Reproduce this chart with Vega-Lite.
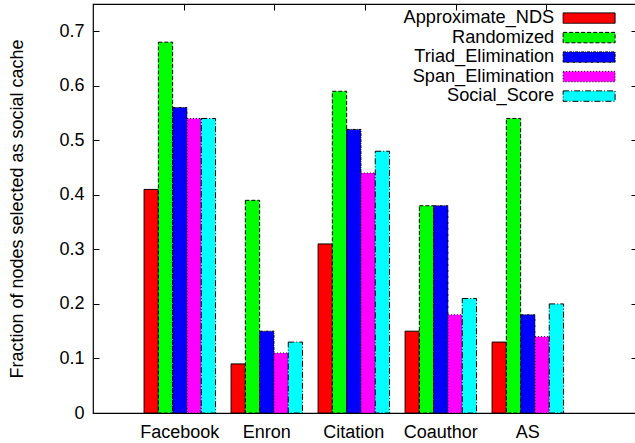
{
  "$schema": "https://vega.github.io/schema/vega-lite/v6.json",
  "width": 544,
  "height": 409,
  "padding": {"left": 8, "top": 3, "right": 0, "bottom": 0},
  "background": "white",
  "config": {
    "font": "Liberation Sans",
    "view": {"stroke": "black", "strokeWidth": 1.2},
    "axis": {"labelFont": "Liberation Sans", "titleFont": "Liberation Sans", "labelColor": "black", "titleColor": "black", "labelFontSize": 18, "titleFontSize": 18, "titleFontWeight": "normal", "grid": false}
  },
  "data": {
    "values": [
      {"dataset": "Facebook", "series": "Approximate_NDS", "value": 0.41},
      {"dataset": "Facebook", "series": "Randomized", "value": 0.68},
      {"dataset": "Facebook", "series": "Triad_Elimination", "value": 0.56},
      {"dataset": "Facebook", "series": "Span_Elimination", "value": 0.54},
      {"dataset": "Facebook", "series": "Social_Score", "value": 0.54},
      {"dataset": "Enron", "series": "Approximate_NDS", "value": 0.09},
      {"dataset": "Enron", "series": "Randomized", "value": 0.39},
      {"dataset": "Enron", "series": "Triad_Elimination", "value": 0.15},
      {"dataset": "Enron", "series": "Span_Elimination", "value": 0.11},
      {"dataset": "Enron", "series": "Social_Score", "value": 0.13},
      {"dataset": "Citation", "series": "Approximate_NDS", "value": 0.31},
      {"dataset": "Citation", "series": "Randomized", "value": 0.59},
      {"dataset": "Citation", "series": "Triad_Elimination", "value": 0.52},
      {"dataset": "Citation", "series": "Span_Elimination", "value": 0.44},
      {"dataset": "Citation", "series": "Social_Score", "value": 0.48},
      {"dataset": "Coauthor", "series": "Approximate_NDS", "value": 0.15},
      {"dataset": "Coauthor", "series": "Randomized", "value": 0.38},
      {"dataset": "Coauthor", "series": "Triad_Elimination", "value": 0.38},
      {"dataset": "Coauthor", "series": "Span_Elimination", "value": 0.18},
      {"dataset": "Coauthor", "series": "Social_Score", "value": 0.21},
      {"dataset": "AS", "series": "Approximate_NDS", "value": 0.13},
      {"dataset": "AS", "series": "Randomized", "value": 0.54},
      {"dataset": "AS", "series": "Triad_Elimination", "value": 0.18},
      {"dataset": "AS", "series": "Span_Elimination", "value": 0.14},
      {"dataset": "AS", "series": "Social_Score", "value": 0.20}
    ]
  },
  "layer": [
    {
      "mark": {"type": "bar", "stroke": "black", "strokeWidth": 1},
      "encoding": {
        "x": {
          "field": "dataset", "type": "nominal",
          "scale": {"domain": ["Facebook", "Enron", "Citation", "Coauthor", "AS"], "paddingInner": 0.178, "paddingOuter": 0.7155, "align": 0.41},
          "axis": {"title": null, "labelAngle": 0, "ticks": false, "domain": false, "labelPadding": 10}
        },
        "xOffset": {
          "field": "series", "type": "nominal",
          "scale": {"domain": ["Approximate_NDS", "Randomized", "Triad_Elimination", "Span_Elimination", "Social_Score"], "paddingInner": 0, "paddingOuter": 0}
        },
        "y": {
          "field": "value", "type": "quantitative",
          "scale": {"domain": [0, 0.75], "nice": false, "zero": true},
          "axis": {"title": "Fraction of nodes selected as social cache", "values": [0, 0.1, 0.2, 0.3, 0.4, 0.5, 0.6, 0.7], "format": "~g", "tickSize": -6, "tickColor": "black", "domain": false, "labelPadding": 15, "titlePadding": 32}
        },
        "fill": {
          "field": "series", "type": "nominal",
          "scale": {"domain": ["Approximate_NDS", "Randomized", "Triad_Elimination", "Span_Elimination", "Social_Score"], "range": ["#ff0000", "#00ff00", "#0000ff", "#ff00ff", "#00ffff"]},
          "legend": {
            "title": null, "orient": "none", "legendX": 487, "legendY": 5,
            "symbolType": "M-5,-1H5V1H-5Z", "symbolSize": 108,
            "symbolStrokeColor": "black", "symbolStrokeWidth": 1,
            "labelAlign": "right", "labelOffset": -44, "labelFontSize": 18.2, "labelColor": "black", "labelFont": "Liberation Sans",
            "rowPadding": 0.5, "padding": 0, "labelLimit": 300
          }
        },
        "strokeDash": {
          "field": "series", "type": "nominal",
          "scale": {"domain": ["Approximate_NDS", "Randomized", "Triad_Elimination", "Span_Elimination", "Social_Score"], "range": [[1, 0], [4, 2], [3, 1, 1, 1], [1, 2], [6, 2, 1, 2]]},
          "legend": null
        }
      }
    },
    {
      "mark": {"type": "point", "opacity": 0},
      "encoding": {
        "x": {
          "field": "value", "type": "quantitative",
          "scale": {"domain": [-1, 5], "nice": false, "zero": false},
          "axis": {"orient": "top", "title": null, "labels": false, "domain": false, "tickSize": -6, "tickColor": "black", "values": [0, 1, 2, 3, 4]}
        },
        "y": {
          "field": "value", "type": "quantitative",
          "scale": {"domain": [0, 0.75], "nice": false, "zero": true},
          "axis": {"orient": "right", "title": null, "labels": false, "domain": false, "tickSize": -6, "tickColor": "black", "values": [0.1, 0.2, 0.3, 0.4, 0.5, 0.6, 0.7]}
        }
      }
    }
  ],
  "resolve": {"scale": {"x": "independent", "y": "independent"}}
}
